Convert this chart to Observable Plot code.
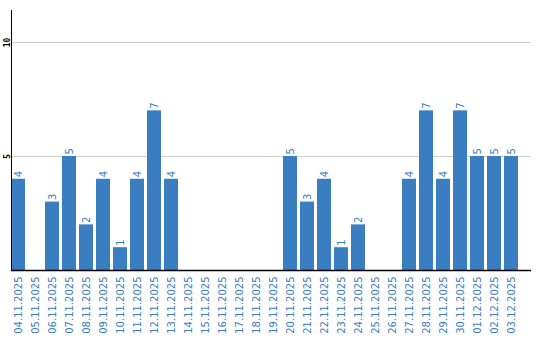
<!DOCTYPE html>
<html>
<head>
<meta charset="utf-8">
<script src="https://cdn.jsdelivr.net/npm/d3@7"></script>
<script src="https://cdn.jsdelivr.net/npm/@observablehq/plot@0.6"></script>
<style>
  html, body { margin: 0; padding: 0; background: #fff; }
</style>
</head>
<body>
<div id="chart"></div>
<script>
const dates = ["04.11.2025","05.11.2025","06.11.2025","07.11.2025","08.11.2025","09.11.2025","10.11.2025","11.11.2025","12.11.2025","13.11.2025","14.11.2025","15.11.2025","16.11.2025","17.11.2025","18.11.2025","19.11.2025","20.11.2025","21.11.2025","22.11.2025","23.11.2025","24.11.2025","25.11.2025","26.11.2025","27.11.2025","28.11.2025","29.11.2025","30.11.2025","01.12.2025","02.12.2025","03.12.2025"];
const values = [4,0,3,5,2,4,1,4,7,4,0,0,0,0,0,0,5,3,4,1,2,0,0,4,7,4,7,5,5,5];
const yTicks = [5, 10];

const data = dates.map((d, i) => ({date: d, value: values[i]}));
const labeled = data.filter(d => d.value > 0);
const blue = "#3a7dc1";

const chart = Plot.plot({
  width: 540,
  height: 340,
  marginLeft: 11,
  marginRight: 9,
  marginTop: 10,
  marginBottom: 70,
  style: {background: "#fff", fontFamily: "DejaVu Sans, sans-serif"},
  x: {domain: dates, paddingInner: 0.18, paddingOuter: 0.355, align: 0, label: null},
  y: {domain: [0, 11.4], label: null},
  marks: [
    Plot.gridY(yTicks, {stroke: "#cccccc", strokeOpacity: 1, strokeWidth: 1}),
    Plot.barY(data, {x: "date", y: "value", fill: blue}),
    Plot.text(labeled, {x: "date", y: "value", text: d => String(d.value), rotate: -90, textAnchor: "start", dy: -2, fill: blue, fontSize: 10}),
    Plot.axisX({tickRotate: -90, tickSize: 0, tickPadding: 6, fontSize: 10, color: blue, label: null}),
    Plot.axisY(yTicks, {tickRotate: -90, tickSize: 0, tickPadding: 2, fontSize: 8, fontWeight: "bold", fill: "#000", label: null, fontFamily: "DejaVu Sans Mono, monospace"}),
    Plot.frame({anchor: "left", stroke: "#000"}),
    Plot.ruleY([0], {stroke: "#000", strokeWidth: 1.5})
  ]
});
document.getElementById("chart").appendChild(chart);
</script>
</body>
</html>
